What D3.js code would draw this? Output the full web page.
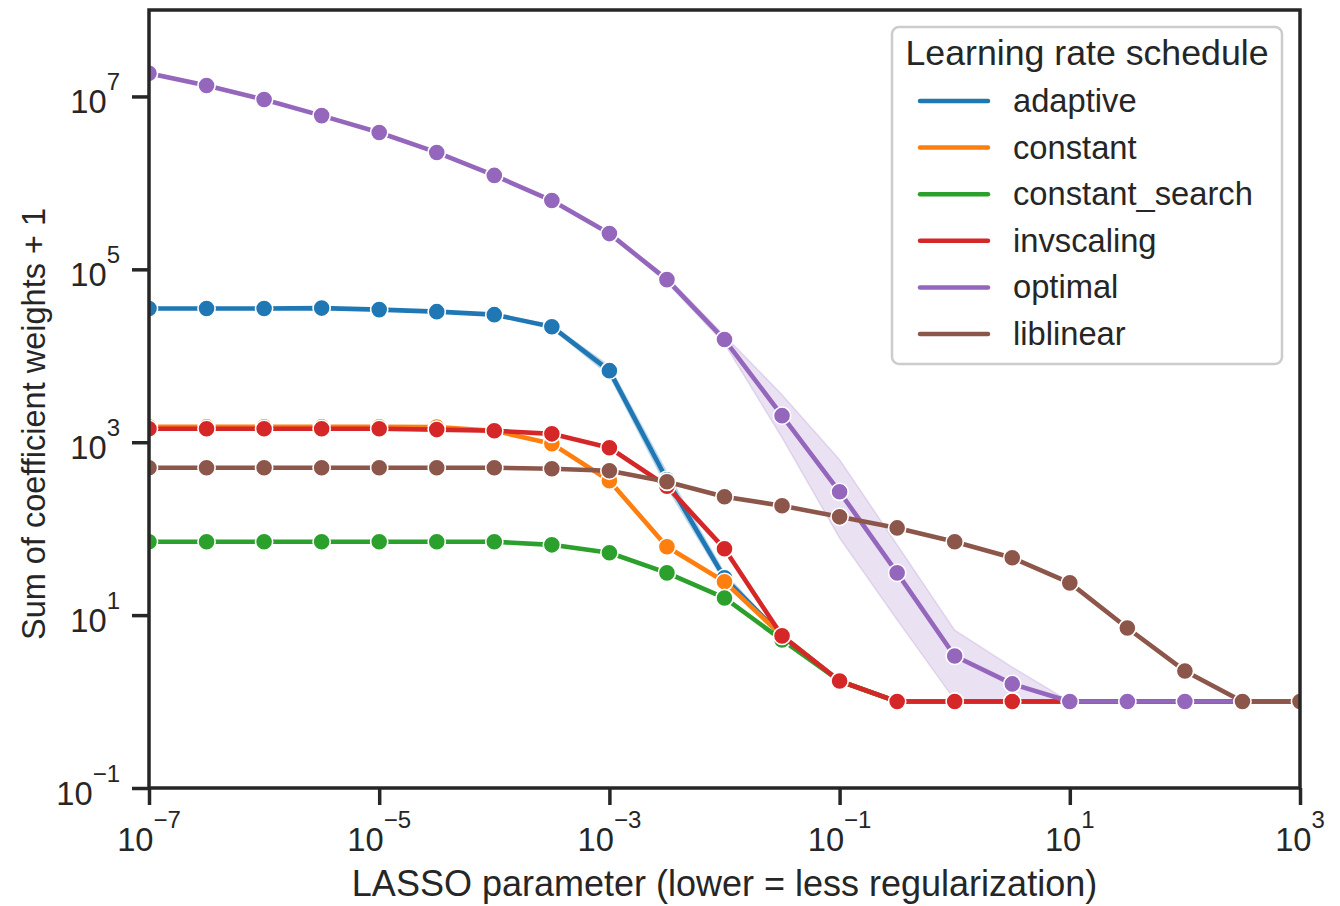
<!DOCTYPE html>
<html>
<meta charset="utf-8">
<script src="https://d3js.org/d3.v7.min.js"></script>
<title>LASSO coefficient sums</title>
<body style="margin:0;background:#fff">
<div id="chart"></div>
<script>
// LASSO parameter (x) - half-decade steps
var lassoParams = [1e-7, 3.162e-7, 1e-6, 3.162e-6, 1e-5, 3.162e-5, 1e-4, 3.162e-4, 1e-3, 3.162e-3,
                   1e-2, 3.162e-2, 1e-1, 3.162e-1, 1, 3.162, 10, 31.62, 100, 316.2, 1000];

var schedules = ["adaptive", "constant", "constant_search", "invscaling", "optimal", "liblinear"];
var colors = ["#1f77b4", "#ff7f0e", "#2ca02c", "#d62728", "#9467bd", "#8c564b"];

// sum of coefficient weights + 1, one value per lasso parameter
var adaptive = [35200, 35200, 35200, 35600, 34200, 32400, 29900, 21700, 6730, 368, 27, 5.75, 1.73, 1, 1, 1, 1, 1, 1, 1, 1];
var constant = [1510, 1510, 1510, 1510, 1510, 1500, 1360, 962, 358, 61.7, 24.3, 5.75, 1.73, 1, 1, 1, 1, 1, 1, 1, 1];
var constantSearch = [70.5, 70.5, 70.5, 70.5, 70.5, 70.5, 70.5, 65, 52.6, 30.8, 15.8, 5.16, 1.73, 1, 1, 1, 1, 1, 1, 1, 1];
var invscaling = [1430, 1430, 1430, 1430, 1430, 1400, 1360, 1250, 863, 310, 58.5, 5.75, 1.73, 1, 1, 1, 1, 1, 1, 1, 1];
var optimal = [1.85e7, 1.34e7, 9.2e6, 6.0e6, 3.83e6, 2.25e6, 1.22e6, 6.25e5, 2.59e5, 7.6e4, 1.54e4, 2030, 267, 30.8, 3.37, 1.6, 1, 1, 1, 1, 1];
var liblinear = [507, 507, 507, 507, 507, 507, 507, 493, 468, 349, 234, 184, 137, 102, 70.5, 46, 23.6, 7.1, 2.26, 1, 1];

// confidence bands (only where they are visible)
var adaptiveLow  = [35200, 35200, 35200, 35600, 34200, 32400, 29900, 20800, 5900, 300, 24, 5.75, 1.73, 1, 1, 1, 1, 1, 1, 1, 1];
var adaptiveHigh = [35200, 35200, 35200, 35600, 34200, 32400, 29900, 22700, 7600, 450, 31, 5.75, 1.73, 1, 1, 1, 1, 1, 1, 1, 1];
var invscalingLow  = [1430, 1430, 1430, 1430, 1430, 1400, 1360, 1250, 850, 290, 54, 5.75, 1.73, 1, 1, 1, 1, 1, 1, 1, 1];
var invscalingHigh = [1430, 1430, 1430, 1430, 1430, 1400, 1360, 1250, 880, 330, 63, 5.75, 1.73, 1, 1, 1, 1, 1, 1, 1, 1];
var optimalLow  = [1.85e7, 1.34e7, 9.2e6, 6.0e6, 3.83e6, 2.25e6, 1.22e6, 6.25e5, 2.59e5, 7.0e4, 1.38e4, 1130, 78, 8.8, 1.04, 1, 1, 1, 1, 1, 1];
var optimalHigh = [1.85e7, 1.34e7, 9.2e6, 6.0e6, 3.83e6, 2.25e6, 1.22e6, 6.25e5, 2.59e5, 8.2e4, 1.71e4, 3550, 627, 65, 6.7, 2.5, 1, 1, 1, 1, 1];

var xTickValues = [1e-7, 1e-5, 1e-3, 1e-1, 1e1, 1e3];
var xTickExps = ["\u22127", "\u22125", "\u22123", "\u22121", "1", "3"];
var yTickValues = [1e-1, 1e1, 1e3, 1e5, 1e7];
var yTickExps = ["\u22121", "1", "3", "5", "7"];

var series = [adaptive, constant, constantSearch, invscaling, optimal, liblinear];
var bands = [[adaptiveLow, adaptiveHigh], null, null, [invscalingLow, invscalingHigh], [optimalLow, optimalHigh], null];

var W = 1340, H = 906;
var plotLeft = 149, plotRight = 1300, plotTop = 10, plotBottom = 788;
var font = "'Liberation Sans', Arial, sans-serif";
var ink = "#262626";

var x = d3.scaleLog().domain([1e-7, 1e3]).range([plotLeft, plotRight]);
var y = d3.scaleLog().domain([1e-1, 1e8]).range([plotBottom, plotTop]);

var svg = d3.select("#chart").append("svg")
    .attr("width", W)
    .attr("height", H)
    .style("font-family", font);

svg.append("defs").append("clipPath").attr("id", "plot")
  .append("rect")
    .attr("x", plotLeft).attr("y", plotTop)
    .attr("width", plotRight - plotLeft).attr("height", plotBottom - plotTop);

var plot = svg.append("g").attr("clip-path", "url(#plot)");

var line = d3.line()
    .x(function(d) { return x(d[0]); })
    .y(function(d) { return y(d[1]); });

var area = d3.area()
    .x(function(d) { return x(d[0]); })
    .y0(function(d) { return y(d[1]); })
    .y1(function(d) { return y(d[2]); });

// bands go under every line
bands.forEach(function(b, i) {
  if (!b) return;
  var pts = lassoParams.map(function(p, j) { return [p, b[0][j], b[1][j]]; });
  plot.append("path")
      .attr("d", area(pts))
      .attr("fill", colors[i])
      .attr("fill-opacity", 0.2)
      .attr("stroke", colors[i])
      .attr("stroke-opacity", 0.2)
      .attr("stroke-width", 1.5);
});

series.forEach(function(vals, i) {
  var pts = lassoParams.map(function(p, j) { return [p, vals[j]]; });
  var g = plot.append("g");
  g.append("path")
      .attr("d", line(pts))
      .attr("fill", "none")
      .attr("stroke", colors[i])
      .attr("stroke-width", 4.6)
      .attr("stroke-linejoin", "round")
      .attr("stroke-linecap", "round");
  g.selectAll("circle")
      .data(pts)
    .enter().append("circle")
      .attr("cx", function(d) { return x(d[0]); })
      .attr("cy", function(d) { return y(d[1]); })
      .attr("r", 8.6)
      .attr("fill", colors[i])
      .attr("stroke", "#fff")
      .attr("stroke-width", 1.6);
});

// axes (ticks only, labels drawn by hand for superscripts)
var xAxis = svg.append("g")
    .attr("transform", "translate(0," + plotBottom + ")")
    .call(d3.axisBottom(x).tickValues(xTickValues).tickFormat("").tickSize(17).tickSizeOuter(0));
var yAxis = svg.append("g")
    .attr("transform", "translate(" + plotLeft + ",0)")
    .call(d3.axisLeft(y).tickValues(yTickValues).tickFormat("").tickSize(17).tickSizeOuter(0));
[xAxis, yAxis].forEach(function(a) {
  a.select(".domain").remove();
  a.selectAll(".tick line").attr("stroke", ink).attr("stroke-width", 3.5);
});

xTickValues.forEach(function(v, i) {
  var t = svg.append("text")
      .attr("x", x(v))
      .attr("y", 851)
      .attr("text-anchor", "middle")
      .attr("fill", ink)
      .style("font-size", "32.7px");
  t.append("tspan").text("10");
  t.append("tspan").attr("dy", -23).style("font-size", "24px").text(xTickExps[i]);
});

yTickValues.forEach(function(v, i) {
  var t = svg.append("text")
      .attr("x", 120)
      .attr("y", y(v) + 17)
      .attr("text-anchor", "end")
      .attr("fill", ink)
      .style("font-size", "32.7px");
  t.append("tspan").text("10");
  t.append("tspan").attr("dy", -23).style("font-size", "24px").text(yTickExps[i]);
});

// frame
svg.append("rect")
    .attr("x", plotLeft).attr("y", plotTop)
    .attr("width", plotRight - plotLeft).attr("height", plotBottom - plotTop)
    .attr("fill", "none")
    .attr("stroke", ink)
    .attr("stroke-width", 3.5);

svg.append("text")
    .attr("x", (plotLeft + plotRight) / 2)
    .attr("y", 896)
    .attr("text-anchor", "middle")
    .attr("fill", ink)
    .style("font-size", "36px")
    .text("LASSO parameter (lower = less regularization)");

svg.append("text")
    .attr("transform", "translate(45,424) rotate(-90)")
    .attr("text-anchor", "middle")
    .attr("fill", ink)
    .style("font-size", "32.5px")
    .text("Sum of coefficient weights + 1");

// legend
var legend = svg.append("g");
legend.append("rect")
    .attr("x", 892).attr("y", 27)
    .attr("width", 390).attr("height", 337)
    .attr("rx", 7)
    .attr("fill", "#fff")
    .attr("fill-opacity", 0.8)
    .attr("stroke", "#cccccc")
    .attr("stroke-width", 2.5);
legend.append("text")
    .attr("x", 1087)
    .attr("y", 65)
    .attr("text-anchor", "middle")
    .attr("fill", ink)
    .style("font-size", "35.7px")
    .text("Learning rate schedule");
schedules.forEach(function(s, i) {
  var ly = 101 + i * 46.6;
  legend.append("line")
      .attr("x1", 920).attr("x2", 988)
      .attr("y1", ly).attr("y2", ly)
      .attr("stroke", colors[i])
      .attr("stroke-width", 4.5)
      .attr("stroke-linecap", "round");
  legend.append("text")
      .attr("x", 1013)
      .attr("y", ly + 11)
      .attr("fill", ink)
      .style("font-size", "32.7px")
      .text(s);
});
</script>
</body>
</html>
